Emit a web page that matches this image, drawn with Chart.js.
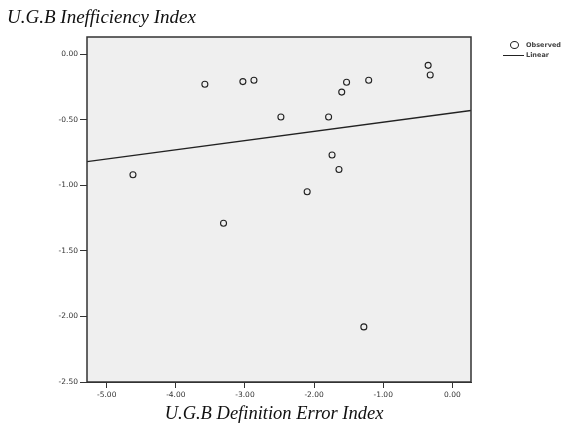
<!DOCTYPE html>
<html lang="en">
  <head>
    <meta charset="UTF-8" />
    <title>U.G.B Inefficiency Index</title>
    <style>
      * {
        box-sizing: border-box;
        margin: 0;
        padding: 0;
      }

      body {
        background-color: #ffffff;
        width: 571px;
        height: 427px;
        overflow: hidden;
      }

      .wrap {
        position: relative;
        width: 571px;
        height: 427px;
      }

      canvas {
        position: absolute;
        left: 0;
        top: 0;
      }

      .title {
        position: absolute;
        font-family: "Liberation Serif", "DejaVu Serif", serif;
        font-style: italic;
        color: #111;
        white-space: nowrap;
      }

      #yTitle {
        left: 7px;
        top: 6px;
        font-size: 19px;
      }

      #xTitle {
        left: 0;
        width: 548px;
        top: 403px;
        font-size: 18.5px;
        text-align: center;
      }

      .legend {
        position: absolute;
        left: 503px;
        top: 40px;
        font-family: "DejaVu Sans", Arial, sans-serif;
        font-size: 6.5px;
        font-weight: bold;
        color: #444;
      }

      .legend div {
        display: flex;
        align-items: center;
        height: 10px;
      }

      .legend .dot {
        width: 9px;
        height: 8px;
        border: 1px solid #222;
        border-radius: 50%;
        margin: 0 7px 0 7px;
      }

      .legend .ln {
        width: 21px;
        height: 0;
        border-top: 1.5px solid #222;
        margin-right: 2px;
      }
    </style>
    <script src="https://cdn.jsdelivr.net/npm/chart.js"></script>
  </head>
  <body>
    <div class="wrap">
      <canvas id="scatterChart" width="571" height="427"></canvas>
      <div class="title" id="yTitle">U.G.B Inefficiency Index</div>
      <div class="title" id="xTitle">U.G.B Definition Error Index</div>
      <div class="legend">
        <div><span class="dot"></span>Observed</div>
        <div><span class="ln"></span>Linear</div>
      </div>
    </div>
    <script>
      // observed points (definition error index, inefficiency index)
      const errorIndex = [
        -4.62, -3.58, -3.31, -3.03, -2.87, -2.48, -2.1, -1.79, -1.74, -1.64,
        -1.6, -1.53, -1.28, -1.21, -0.35, -0.32,
      ];
      const inefficiency = [
        -0.92, -0.23, -1.29, -0.21, -0.2, -0.48, -1.05, -0.48, -0.77, -0.88,
        -0.29, -0.215, -2.08, -0.2, -0.086, -0.16,
      ];

      // fitted linear line, read at the plot edges
      const fitX = [-5.285, 0.27];
      const fitY = [-0.82, -0.43];

      const xTicks = [-5, -4, -3, -2, -1, 0];
      const yTicks = [0, -0.5, -1, -1.5, -2, -2.5];

      const observed = errorIndex.map((x, i) => ({ x: x, y: inefficiency[i] }));
      const linear = fitX.map((x, i) => ({ x: x, y: fitY[i] }));

      const plotFrame = {
        id: "plotFrame",
        beforeDatasetsDraw(chart) {
          const { ctx, chartArea } = chart;
          ctx.save();
          ctx.fillStyle = "#efefef";
          ctx.fillRect(
            chartArea.left,
            chartArea.top,
            chartArea.width,
            chartArea.height
          );
          ctx.restore();
        },
        afterDatasetsDraw(chart) {
          const { ctx, chartArea } = chart;
          ctx.save();
          ctx.strokeStyle = "#333";
          ctx.lineWidth = 1.5;
          ctx.strokeRect(
            chartArea.left,
            chartArea.top,
            chartArea.width,
            chartArea.height
          );
          ctx.restore();
        },
      };

      const tickFont = { family: "DejaVu Sans", size: 7.5 };

      new Chart(document.getElementById("scatterChart"), {
        type: "scatter",
        data: {
          datasets: [
            {
              label: "Linear",
              type: "line",
              data: linear,
              borderColor: "#222",
              borderWidth: 1.4,
              pointRadius: 0,
              fill: false,
            },
            {
              label: "Observed",
              data: observed,
              pointStyle: "circle",
              pointRadius: 3,
              borderColor: "#222",
              borderWidth: 1.1,
              backgroundColor: "rgba(0,0,0,0)",
            },
          ],
        },
        options: {
          responsive: false,
          animation: false,
          layout: {
            padding: { left: 0, top: 37, right: 100, bottom: 0 },
          },
          plugins: {
            legend: { display: false },
            tooltip: { enabled: false },
          },
          scales: {
            x: {
              type: "linear",
              min: -5.285,
              max: 0.27,
              afterBuildTicks(scale) {
                scale.ticks = xTicks.map((v) => ({ value: v }));
              },
              afterFit(scale) {
                scale.height = 45;
              },
              ticks: {
                font: tickFont,
                color: "#333",
                padding: 3,
                maxRotation: 0,
                callback: (v) => v.toFixed(2),
              },
              grid: {
                drawOnChartArea: false,
                drawTicks: true,
                tickLength: 6,
                color: "#333",
              },
              border: { display: true, color: "#333" },
            },
            y: {
              type: "linear",
              min: -2.5,
              max: 0.13,
              afterBuildTicks(scale) {
                scale.ticks = yTicks.map((v) => ({ value: v }));
              },
              afterFit(scale) {
                scale.width = 87;
              },
              ticks: {
                font: tickFont,
                color: "#333",
                padding: 2,
                callback: (v) => v.toFixed(2),
              },
              grid: {
                drawOnChartArea: false,
                drawTicks: true,
                tickLength: 7,
                color: "#333",
              },
              border: { display: true, color: "#333" },
            },
          },
        },
        plugins: [plotFrame],
      });
    </script>
  </body>
</html>
